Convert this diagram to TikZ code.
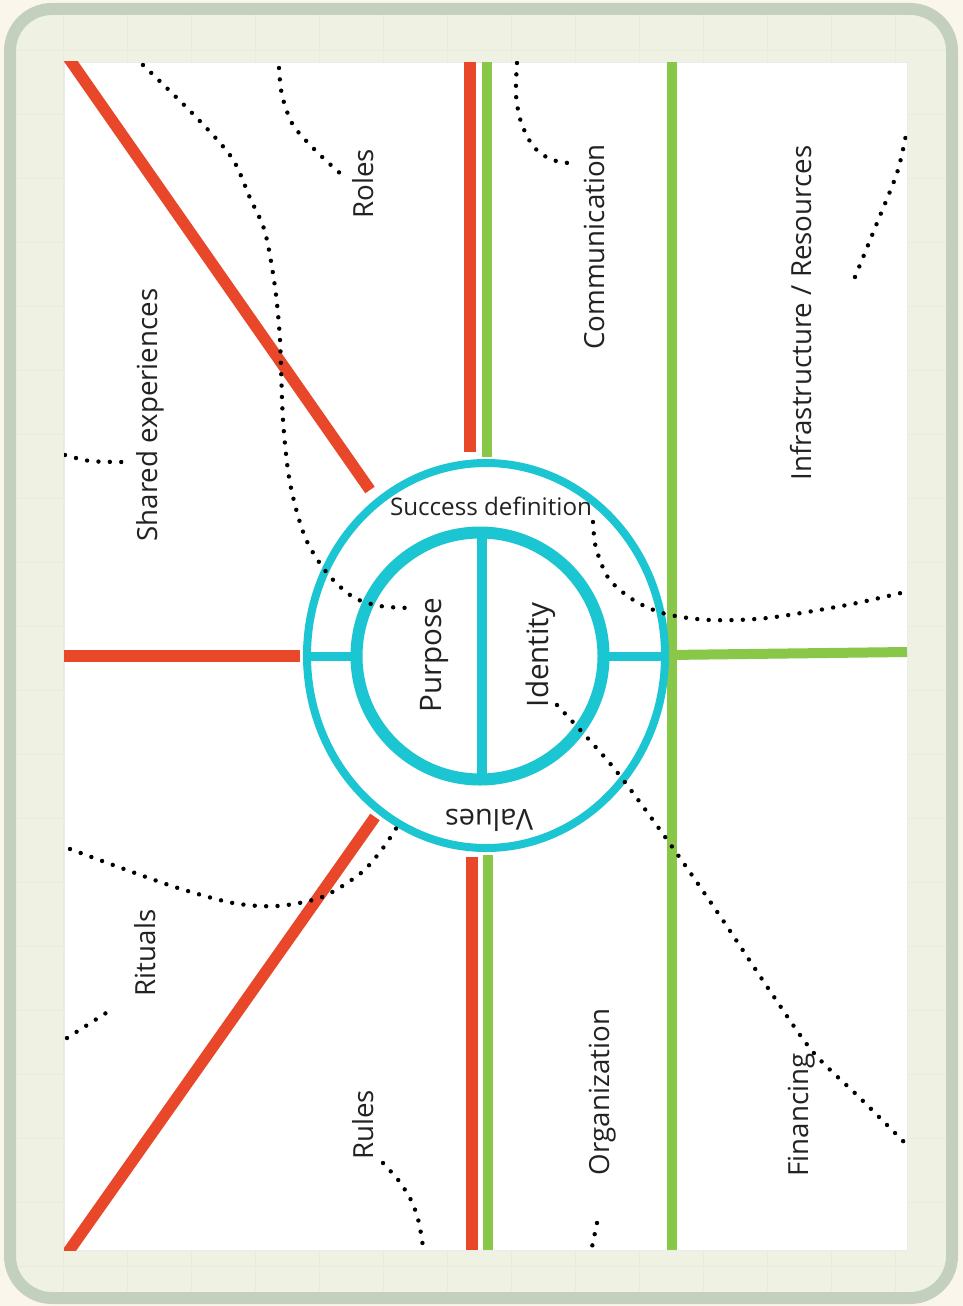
\documentclass[tikz,border=0pt]{standalone}
\usepackage{fontspec}
\setmainfont{Open Sans}
\definecolor{cream}{HTML}{FBF6EC}
\definecolor{framegrey}{HTML}{C4D0BE}
\definecolor{framefill}{HTML}{EFF2E2}
\definecolor{gridfaint}{HTML}{E8ECDB}
\definecolor{barred}{HTML}{E9472A}
\definecolor{bargreen}{HTML}{88C748}
\definecolor{ringcyan}{HTML}{1BC5D1}
\definecolor{inkgrey}{HTML}{222222}
\begin{document}
\begin{tikzpicture}[x=1pt, y=-1pt, line join=round,
  redbar/.style={draw=barred, line width=11.5pt},
  greenbar/.style={draw=bargreen, line width=10pt},
  ringline/.style={draw=ringcyan},
  dotline/.style={line width=4.4pt, line cap=round, dash pattern=on 0pt off 11.4pt},
  txt/.style={anchor=base, inner sep=0pt, text=inkgrey, font=\fontsize{27.7}{33}\selectfont},
  lbl/.style={txt, rotate=90}]
  \def\px{64} \def\py{62} \def\qx{907} \def\qy{1250} % white panel
  \useasboundingbox[fill=cream] (0,0) rectangle (963,1306);
  \fill[framefill, rounded corners=42pt] (10,9) rectangle (952,1298);
  \begin{scope}
    \clip[rounded corners=42pt] (10,9) rectangle (952,1298);
    \foreach \gx in {63,127,...,959} \draw[gridfaint] (\gx,0)--(\gx,1306);
    \foreach \gy in {50,114,...,1294} \draw[gridfaint] (0,\gy)--(963,\gy);
  \end{scope}
  \draw[framegrey, line width=12pt, rounded corners=42pt] (10,9) rectangle (952,1298);
  \draw[black!8, fill=white] (\px,\py) rectangle (\qx,\qy);
  \begin{scope}
    \clip (\px,\py) rectangle (\qx,\qy);
    % bars
    \draw[redbar] (59.5,45)--(370,490);
    \draw[redbar] (375,817)--(59,1265);
    \draw[redbar] (\px,656)--(300,656);
    \draw[redbar] (470,\py)--(470,452);
    \draw[redbar] (472,857)--(472,\qy);
    \draw[greenbar] (487,\py)--(487,457);
    \draw[greenbar] (488,855)--(488,\qy);
    \draw[greenbar] (672,\py)--(672,\qy);
    \draw[greenbar] (668,655)--(\qx,652);
    % rings
    \draw[ringline, line width=8pt] (486,655.5) ellipse [x radius=179pt, y radius=192.5pt];
    \draw[ringline, line width=12pt] (480,656) circle [radius=123.5pt];
    \draw[ringline, line width=10pt] (482,532)--(482,781);
    \draw[ringline, line width=9pt] (307,656)--(358,656);
    \draw[ringline, line width=9pt] (603,656)--(665,656);
    % dotted
    \draw[dotline] plot[smooth] coordinates {(143,65) (195,116) (232,158) (250,198) (265,232) (275,287) (280,340) (283,420) (290,483) (305,537) (327,573) (353,597) (380,606) (410,608)};
    \draw[dotline] plot[smooth] coordinates {(279,68) (282,95) (293,125) (317,152) (342,175)};
    \draw[dotline] plot[smooth] coordinates {(65,455) (90,461) (122,462)};
    \draw[dotline] plot[smooth] coordinates {(517,63) (516,95) (521,122) (533,146) (550,159) (568,163)};
    \draw[dotline] plot[smooth] coordinates {(855,277) (877,223) (897,173) (906,135)};
    \draw[dotline] plot[smooth] coordinates {(593,522) (596,548) (609,579) (635,601) (666,614) (710,620) (767,618) (847,605) (905,592)};
    \draw[dotline] plot[smooth] coordinates {(557,705) (613,767) (668,841) (720,916) (770,991) (813,1052) (860,1098) (905,1143)};
    \draw[dotline] plot[smooth] coordinates {(70,849) (124,869) (178,888) (233,903) (277,906) (322,897) (361,873) (383,848) (397,827)};
    \draw[dotline] (67,1038)--(106,1013);
    \draw[dotline] plot[smooth] coordinates {(383,1163) (399,1181) (412,1202) (419,1223) (423,1247)};
    \draw[dotline] (597,1223)--(592,1247);
  \end{scope}
  % labels
  \node[lbl] (shared) at (157,415) {Shared experiences};
  \node[lbl] (roles) at (373,184) {Roles};
  \node[lbl] (comm) at (604,247) {Communication};
  \node[lbl] (infra) at (811,313) {Infrastructure / Resources};
  \node[lbl] (rituals) at (155,953) {Rituals};
  \node[lbl] (rules) at (373,1125) {Rules};
  \node[lbl] (orga) at (609,1092) {Organization};
  \node[lbl] (financing) at (808,1115) {Financing};
  \node[lbl, font=\fontsize{29.6}{35}\selectfont] (purpose) at (441,655) {Purpose};
  \node[lbl, font=\fontsize{29.6}{35}\selectfont] (identity) at (548,655) {Identity};
  \node[txt, font=\fontsize{24.2}{29}\selectfont] (success) at (491,515) {Success definition};
  \node[txt, rotate=180, font=\fontsize{29}{35}\selectfont] (values) at (489,809) {Values};
\end{tikzpicture}
\end{document}
